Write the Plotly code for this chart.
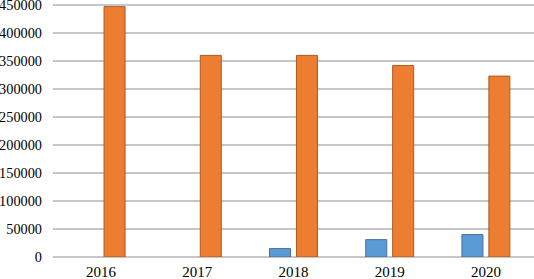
import plotly.graph_objects as go

years = ["2016", "2017", "2018", "2019", "2020"]
series_blue = [None, None, 15000, 31000, 40000]
series_orange = [447000, 360000, 360000, 342000, 323000]
y_ticks = [0, 50000, 100000, 150000, 200000, 250000, 300000, 350000, 400000, 450000]

fig = go.Figure()
fig.add_trace(go.Bar(x=years, y=series_blue, marker=dict(color="#5b9bd5", line=dict(color="#41719c", width=1))))
fig.add_trace(go.Bar(x=years, y=series_orange, marker=dict(color="#ed7d31", line=dict(color="#ae5a21", width=1))))

font = dict(family="Liberation Serif, Times New Roman, serif", size=15, color="#000000")
yfont = dict(family="Liberation Serif, Times New Roman, serif", size=14.3, color="#000000")
fig.update_layout(
    width=534, height=279,
    margin=dict(l=53, r=0, t=2, b=22),
    barmode="group", bargap=0.44, bargroupgap=0.22,
    showlegend=False,
    plot_bgcolor="white", paper_bgcolor="white",
    font=font,
    xaxis=dict(showgrid=False, showline=False, ticks="", tickfont=font, ticklabelstandoff=4,
               ticklabeloverflow="allow", automargin=False),
    yaxis=dict(range=[0, 455300], tickvals=y_ticks, ticktext=[str(v) for v in y_ticks],
               showgrid=True, gridcolor="#c6c6c6", gridwidth=1.6, zeroline=True, zerolinecolor="#c6c6c6",
               zerolinewidth=1.6, showline=False, ticks="", tickfont=yfont, ticklabelstandoff=10,
               ticklabeloverflow="allow", automargin=False),
)
fig.write_html("out.html", config={"displayModeBar": False},
               post_script="document.body.style.margin='0';document.body.style.overflow='hidden';")
